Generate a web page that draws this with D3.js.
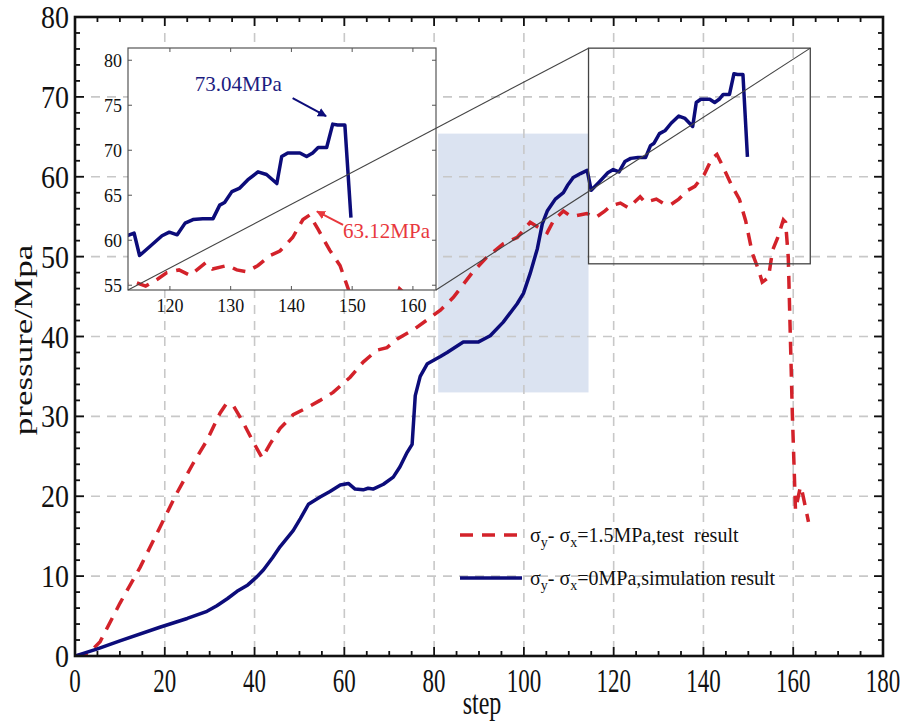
<!DOCTYPE html>
<html>
<head>
<meta charset="utf-8">
<title>pressure vs step</title>
<script src="https://d3js.org/d3.v7.min.js"></script>
<style>
    body { margin: 0; background: #fff; }
    text { font-family: "Liberation Serif", "Times New Roman", serif; fill: #111; }
</style>
</head>
<body>
<svg id="chart" width="914" height="722"></svg>
<script>
// test result (dashed red)
var redSteps = [0, 3, 5.6, 10, 14.5, 18.9, 22.7, 26.3, 29.4, 32.3, 33.6, 35.2, 37.2, 39.7, 41.7, 43.5, 45.7, 48.6, 51.7, 54.6,
    57.5, 59.7, 61.3, 64.2, 67.3, 69.5, 71.8, 74, 75.3, 78.5, 81.4, 84.3, 88.5, 91.5, 95.4, 98.5, 101.4, 105.2, 106.6, 108.8,
    110.3, 111.5, 114, 116, 118, 119.5, 121.5, 123.3, 125.9, 127, 129.5, 131, 132.7, 134.5, 136.5, 138.1, 140.2, 141.9, 143,
    144.4, 146.3, 148, 149.4, 150.9, 152.3, 153.1, 154.5, 155.4, 156.5, 157.8, 158.3, 158.9, 159.8, 160.5, 161.6, 161.8, 163.4];
var redPressure = [0, 0.3, 1.8, 6.6, 11.1, 16.1, 20.4, 24.1, 27, 30.4, 31.5, 31.4, 29.5, 26.8, 24.8, 26.6, 28.5, 30.2, 31.1, 32,
    33, 34.1, 34.9, 36.8, 38.3, 38.6, 39.7, 40.4, 40.8, 42.1, 43.3, 44.9, 48, 49.8, 51.6, 52.4, 54.3, 53, 54.5, 55.7,
    55.1, 55.1, 55.4, 54.9, 55.7, 56.4, 56.7, 56.1, 57.5, 56.8, 57.2, 56.7, 56.5, 57.2, 58.3, 58.8, 60.3, 62.3, 62.8,
    61.2, 58.9, 57.2, 54.5, 50.4, 48.3, 46.8, 47.4, 50.8, 52.3, 54.6, 54.3, 49.9, 30.4, 18.3, 21.2, 21.1, 16.8];

// simulation result (solid blue)
var blueSteps = [0, 5, 10, 18.9, 25, 29.4, 31.6, 34, 36.1, 38.5, 40.5, 42, 44, 45.7, 48.6, 50.2, 52, 54.6, 56.8, 59.1,
    60.9, 62.4, 64.2, 65.3, 66.4, 68.7, 70.9, 72.4, 74, 75.1, 75.8, 76.9, 78.5, 81.4, 82.9, 86.5, 89.8, 92.5, 95.4, 98.5,
    99.9, 101.4, 103, 104.1, 105.2, 107, 108.8, 109.7, 111, 112.6, 114.1, 115, 116.7, 118.7, 119.9, 121.2, 122.5, 123.8, 125.4,
    127.1, 128.2, 129, 130.2, 131.5, 132.8, 134.5, 135.9, 137.6, 138.4, 139.4, 141.4, 142.5, 143.5, 144.4, 145.8, 146.8,
    147.6, 148.8, 149.8];
var bluePressure = [0, 0.9, 1.9, 3.6, 4.7, 5.6, 6.3, 7.2, 8.1, 8.9, 9.9, 10.8, 12.3, 13.7, 15.7, 17.2, 19, 19.9, 20.6, 21.4,
    21.6, 20.9, 20.8, 21, 20.9, 21.5, 22.4, 23.7, 25.5, 26.5, 32.6, 35, 36.6, 37.5, 38, 39.3, 39.3, 40.1, 41.8, 44.1,
    45.4, 47.9, 51, 54.1, 55.7, 57.2, 58, 58.9, 59.9, 60.4, 60.8, 58.3, 59.3, 60.5, 60.9, 60.6, 61.9, 62.3, 62.4,
    62.4, 63.9, 64.2, 65.4, 65.8, 66.7, 67.6, 67.3, 66.3, 69.3, 69.7, 69.7, 69.3, 69.7, 70.3, 70.3, 72.9,
    72.8, 72.8, 62.5];

var xTicks = [0, 20, 40, 60, 80, 100, 120, 140, 160, 180];
var yTicks = [0, 10, 20, 30, 40, 50, 60, 70, 80];
var insetXTicks = [120, 130, 140, 150, 160];
var insetYTicks = [55, 60, 65, 70, 75, 80];
var legendNames = ["1.5MPa,test  result", "0MPa,simulation result"];
var peakLabels = ["73.04MPa", "63.12MPa"];

var redColor = "#d3222a", blueColor = "#0c0c7a";
var svg = d3.select("#chart");

var x = d3.scaleLinear().domain([0, 180]).range([75, 883]);
var y = d3.scaleLinear().domain([0, 80]).range([656, 17]);

function series(xs, ys) { return xs.map(function(d, i) { return [d, ys[i]]; }); }
var redData = series(redSteps, redPressure);
var blueData = series(blueSteps, bluePressure);

svg.append("defs").append("clipPath").attr("id", "mainClip")
    .append("rect").attr("x", 75).attr("y", 17).attr("width", 808).attr("height", 639);

// highlighted band
svg.append("rect")
    .attr("x", x(80.9)).attr("y", y(65.4))
    .attr("width", x(114.4) - x(80.9)).attr("height", y(33) - y(65.4))
    .attr("fill", "#dbe3f1");

// grid
var grid = svg.append("g").attr("stroke", "#c8c8c8").attr("stroke-width", 1.6).attr("stroke-dasharray", "9,7");
xTicks.slice(1, -1).forEach(function(v) {
    grid.append("line").attr("x1", x(v)).attr("x2", x(v)).attr("y1", y(80)).attr("y2", y(0));
});
yTicks.slice(1, -1).forEach(function(v) {
    grid.append("line").attr("y1", y(v)).attr("y2", y(v)).attr("x1", x(0)).attr("x2", x(180));
});

var line = d3.line().x(function(d) { return x(d[0]); }).y(function(d) { return y(d[1]); });
var plot = svg.append("g").attr("clip-path", "url(#mainClip)");
plot.append("path").attr("d", line(redData)).attr("fill", "none").attr("stroke", redColor)
    .attr("stroke-width", 3.5).attr("stroke-dasharray", "13,9");
plot.append("path").attr("d", line(blueData)).attr("fill", "none").attr("stroke", blueColor)
    .attr("stroke-width", 3.5).attr("stroke-linejoin", "round");

// zoom box
var box = {x0: 114.4, x1: 163.8, y0: 49.1, y1: 76.1};
svg.append("rect")
    .attr("x", x(box.x0)).attr("y", y(box.y1))
    .attr("width", x(box.x1) - x(box.x0)).attr("height", y(box.y0) - y(box.y1))
    .attr("fill", "none").attr("stroke", "#444").attr("stroke-width", 1.3);

// inset
var inset = {left: 128, right: 436, top: 48, bottom: 290};
var ix = d3.scaleLinear().domain([113.1, 163.8]).range([inset.left, inset.right]);
var iy = d3.scaleLinear().domain([54.47, 81.36]).range([inset.bottom, inset.top]);
var ig = svg.append("g");
svg.select("defs").append("clipPath").attr("id", "insetClip")
    .append("rect").attr("x", inset.left).attr("y", inset.top)
    .attr("width", inset.right - inset.left).attr("height", inset.bottom - inset.top);
ig.append("rect").attr("x", inset.left).attr("y", inset.top)
    .attr("width", inset.right - inset.left).attr("height", inset.bottom - inset.top)
    .attr("fill", "#fff");
var iline = d3.line().x(function(d) { return ix(d[0]); }).y(function(d) { return iy(d[1]); });
var ip = ig.append("g").attr("clip-path", "url(#insetClip)");
ip.append("path").attr("d", iline(redData)).attr("fill", "none").attr("stroke", redColor)
    .attr("stroke-width", 3.5).attr("stroke-dasharray", "13,9");
ip.append("path").attr("d", iline(blueData)).attr("fill", "none").attr("stroke", blueColor)
    .attr("stroke-width", 3.5).attr("stroke-linejoin", "round");
ig.append("rect").attr("x", inset.left).attr("y", inset.top)
    .attr("width", inset.right - inset.left).attr("height", inset.bottom - inset.top)
    .attr("fill", "none").attr("stroke", "#555").attr("stroke-width", 1.2);
insetXTicks.forEach(function(v) {
    ig.append("line").attr("x1", ix(v)).attr("x2", ix(v)).attr("y1", inset.bottom).attr("y2", inset.bottom - 4).attr("stroke", "#555");
    ig.append("line").attr("x1", ix(v)).attr("x2", ix(v)).attr("y1", inset.top).attr("y2", inset.top + 4).attr("stroke", "#555");
    ig.append("text").attr("x", ix(v)).attr("y", inset.bottom + 22).attr("text-anchor", "middle")
        .style("font-size", "18px").attr("fill", "#333").text(v);
});
insetYTicks.forEach(function(v) {
    ig.append("line").attr("y1", iy(v)).attr("y2", iy(v)).attr("x1", inset.left).attr("x2", inset.left + 4).attr("stroke", "#555");
    ig.append("line").attr("y1", iy(v)).attr("y2", iy(v)).attr("x1", inset.right).attr("x2", inset.right - 4).attr("stroke", "#555");
    ig.append("text").attr("x", inset.left - 6).attr("y", iy(v)).attr("dy", "0.35em").attr("text-anchor", "end")
        .style("font-size", "18px").attr("fill", "#333").text(v);
});

// peak annotations
var defs = svg.select("defs");
[["arrBlue", blueColor], ["arrRed", "#e8383d"]].forEach(function(a) {
    defs.append("marker").attr("id", a[0]).attr("viewBox", "0 0 10 10").attr("refX", 9).attr("refY", 5)
        .attr("markerWidth", 4.5).attr("markerHeight", 4.5).attr("orient", "auto")
        .append("path").attr("d", "M0,0L10,5L0,10z").attr("fill", a[1]);
});
ig.append("text").attr("x", ix(124.1)).attr("y", iy(76.6)).style("font-size", "21px")
    .attr("fill", blueColor).style("fill", "#1c1c80").text(peakLabels[0]);
ig.append("line").attr("x1", ix(140.2)).attr("y1", iy(75.8)).attr("x2", ix(145.7)).attr("y2", iy(73.8))
    .attr("stroke", blueColor).attr("stroke-width", 2).attr("marker-end", "url(#arrBlue)");
ig.append("text").attr("x", ix(148.5)).attr("y", iy(60.3)).style("font-size", "21px")
    .style("fill", "#e8383d").text(peakLabels[1]);
ig.append("line").attr("x1", ix(148.5)).attr("y1", iy(61.7)).attr("x2", ix(144.2)).attr("y2", iy(63.2))
    .attr("stroke", "#e8383d").attr("stroke-width", 2).attr("marker-end", "url(#arrRed)");

// connectors between inset and zoom box
svg.append("line").attr("x1", inset.left).attr("y1", inset.bottom).attr("x2", x(box.x0)).attr("y2", y(box.y1))
    .attr("stroke", "#444").attr("stroke-width", 1.1);
svg.append("line").attr("x1", inset.right).attr("y1", inset.bottom).attr("x2", x(box.x1)).attr("y2", y(box.y1))
    .attr("stroke", "#444").attr("stroke-width", 1.1);

// frame and ticks
var axes = svg.append("g").attr("stroke", "#111");
d3.range(0, 181, 5).forEach(function(v) {
    var len = v % 20 === 0 ? 9 : 5;
    axes.append("line").attr("x1", x(v)).attr("x2", x(v)).attr("y1", y(0)).attr("y2", y(0) - len).attr("stroke-width", 1.8);
    axes.append("line").attr("x1", x(v)).attr("x2", x(v)).attr("y1", y(80)).attr("y2", y(80) + len).attr("stroke-width", 1.8);
});
d3.range(0, 81, 2).forEach(function(v) {
    var len = v % 10 === 0 ? 9 : 5;
    axes.append("line").attr("y1", y(v)).attr("y2", y(v)).attr("x1", x(0)).attr("x2", x(0) + len).attr("stroke-width", 1.8);
    axes.append("line").attr("y1", y(v)).attr("y2", y(v)).attr("x1", x(180)).attr("x2", x(180) - len).attr("stroke-width", 1.8);
});
axes.append("rect").attr("x", x(0)).attr("y", y(80)).attr("width", x(180) - x(0)).attr("height", y(0) - y(80))
    .attr("fill", "none").attr("stroke-width", 2.6);

function stretched(px, py, str, size, sy, anchor) {
    return svg.append("text").attr("transform", "translate(" + px + "," + py + ") scale(1," + sy + ")")
        .attr("text-anchor", anchor).style("font-size", size + "px").text(str);
}
xTicks.forEach(function(v) { stretched(x(v), 692, v, 23, 1.45, "middle"); });
yTicks.forEach(function(v) { stretched(69, y(v), v, 28, 1.1, "end").attr("dy", "0.36em"); });
stretched(482, 714, "step", 24, 1.4, "middle");
svg.append("text").attr("transform", "translate(32,340) rotate(-90) scale(1.4,1)")
    .attr("text-anchor", "middle").style("font-size", "25px").text("pressure/Mpa");

// legend
var legend = svg.append("g");
[[redColor, "13,9", 535, legendNames[0]], [blueColor, null, 578, legendNames[1]]].forEach(function(l) {
    legend.append("line").attr("x1", 460).attr("x2", 522).attr("y1", l[2]).attr("y2", l[2])
        .attr("stroke", l[0]).attr("stroke-width", 3.5).attr("stroke-dasharray", l[1]);
    var t = legend.append("text").attr("x", 530).attr("y", l[2] + 7).style("font-size", "20px")
        .style("white-space", "pre");
    t.append("tspan").text("σ");
    t.append("tspan").attr("dy", 5).style("font-size", "14px").text("y");
    t.append("tspan").attr("dy", -5).text("- σ");
    t.append("tspan").attr("dy", 5).style("font-size", "14px").text("x");
    t.append("tspan").attr("dy", -5).text("=" + l[3]);
});
</script>
</body>
</html>
